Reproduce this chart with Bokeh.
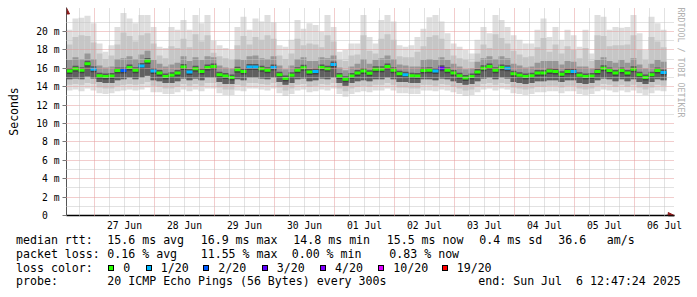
from bokeh.plotting import figure
from bokeh.models import (Range1d, FixedTicker, Grid, Title, Arrow, NormalHead,
                          ColumnDataSource, Div)
from bokeh.layouts import column
from bokeh.embed import file_html
from bokeh.resources import INLINE

# ---------------- data (hours since 27 Jun 00:00) ----------------
T_END = 228.79          # Sun Jul 6 12:47:24
T_SPAN = 240.0          # 10 days
BIN_H = 2.4             # hours per smoke column

median_ms = [
    15.7, 15.95, 15.8, 16.5, 15.9, 15.2, 15.1, 15.15, 15.75, 15.75,
    16.1, 15.8, 16.25, 16.8, 15.7, 15.5, 15.1, 15.25, 15.5, 16.15,
    15.6, 15.95, 15.65, 16.1, 16.2, 15.3, 15.15, 15.0, 15.85, 15.65,
    16.15, 16.15, 15.95, 15.8, 16.1, 15.3, 14.9, 15.25, 15.8, 16.05,
    15.6, 15.65, 16.1, 15.95, 16.4, 15.15, 14.8, 15.15, 15.5, 15.7,
    15.45, 15.9, 15.9, 16.2, 15.8, 15.4, 15.3, 15.2, 15.15, 15.75,
    15.8, 15.7, 16.0, 15.8, 15.5, 15.2, 14.95, 15.1, 15.6, 16.0,
    16.2, 15.8, 16.1, 16.0, 15.4, 15.25, 15.1, 15.2, 15.5, 15.5,
    15.7, 15.65, 15.35, 15.65, 15.65, 15.25, 15.1, 15.15, 15.65, 16.0,
    15.75, 15.5, 15.75, 15.5, 15.9, 15.3, 15.0, 15.3, 15.75, 15.55]

loss_20 = [0] * 100
for i in [4, 12, 14, 20, 30, 31, 34, 41, 44, 56, 61, 73, 84, 99]:
    loss_20[i] = 1
loss_20[9] = 2
loss_20[62] = 3

smoke_max = [
    20.2, 21.4, 21.5, 21.7, 20.9, 18.7, 17.8, 18.5, 20.5, 22.0,
    21.4, 20.9, 21.8, 21.8, 20.5, 18.35, 18.2, 20.5, 20.2, 21.25,
    20.2, 21.8, 20.9, 21.8, 19.0, 18.5, 18.2, 18.0, 20.5, 21.6,
    20.2, 21.4, 21.1, 21.8, 21.0, 18.5, 18.35, 19.1, 21.25, 20.3,
    20.9, 20.7, 20.0, 21.8, 20.5, 17.8, 18.0, 18.7, 18.7, 21.8,
    19.4, 18.7, 21.25, 21.8, 21.1, 18.5, 18.35, 18.5, 19.4, 20.3,
    21.55, 21.8, 21.1, 19.8, 18.7, 18.35, 18.0, 17.6, 19.1, 20.5,
    19.8, 21.8, 21.25, 20.5, 19.6, 19.1, 18.7, 18.7, 20.2, 21.4,
    19.4, 20.5, 19.1, 20.2, 19.6, 18.35, 20.2, 17.6, 21.8, 21.6,
    20.2, 20.5, 20.4, 20.5, 21.8, 19.8, 18.0, 21.6, 20.9, 20.2]

smoke_p90 = [
    18.6, 19.4, 19.6, 19.5, 18.8, 17.6, 17.0, 17.4, 18.6, 19.9,
    19.5, 18.9, 19.6, 19.8, 18.7, 17.4, 17.1, 18.4, 18.2, 19.2,
    18.3, 19.7, 18.9, 19.6, 17.7, 17.3, 17.1, 16.9, 18.5, 19.5,
    18.6, 19.4, 19.1, 19.6, 19.2, 17.4, 17.0, 17.6, 19.2, 18.5,
    18.7, 18.6, 18.3, 19.6, 18.9, 16.9, 16.8, 17.4, 17.5, 19.6,
    17.9, 17.6, 19.2, 19.7, 19.1, 17.3, 17.2, 17.2, 17.8, 18.4,
    19.4, 19.6, 19.2, 18.1, 17.4, 17.1, 16.9, 16.7, 17.6, 18.6,
    18.2, 19.7, 19.3, 18.7, 17.9, 17.5, 17.2, 17.3, 18.3, 19.3,
    17.8, 18.6, 17.6, 18.4, 18.0, 17.1, 18.2, 16.8, 19.6, 19.5,
    18.4, 18.5, 18.5, 18.6, 19.6, 18.0, 16.9, 19.4, 18.9, 18.3]

smoke_p75 = [
    16.9, 17.2, 17.0, 17.6, 17.0, 16.3, 16.1, 16.2, 17.0, 17.1,
    17.3, 17.0, 17.5, 17.9, 16.9, 16.5, 16.2, 16.4, 16.6, 17.3,
    16.8, 17.2, 16.9, 17.3, 17.2, 16.3, 16.1, 16.0, 17.0, 16.9,
    17.3, 17.4, 17.1, 17.0, 17.3, 16.3, 15.9, 16.3, 17.0, 17.2,
    16.8, 16.8, 17.2, 17.1, 17.4, 16.1, 15.8, 16.2, 16.5, 17.0,
    16.5, 16.9, 17.1, 17.4, 17.0, 16.4, 16.3, 16.2, 16.2, 16.9,
    17.0, 16.9, 17.2, 16.9, 16.5, 16.2, 15.9, 16.0, 16.7, 17.1,
    17.3, 17.0, 17.3, 17.1, 16.5, 16.3, 16.1, 16.2, 16.6, 16.8,
    16.8, 16.8, 16.4, 16.8, 16.7, 16.2, 16.2, 16.0, 16.9, 17.2,
    16.8, 16.6, 16.9, 16.6, 17.1, 16.4, 16.0, 16.5, 16.9, 16.7]

smoke_p25 = [
    14.8, 14.9, 14.8, 15.1, 14.9, 14.5, 14.4, 14.4, 14.7, 14.8,
    15.0, 14.8, 15.0, 15.2, 14.7, 14.6, 14.4, 14.4, 14.6, 14.9,
    14.7, 14.9, 14.7, 15.0, 15.0, 14.5, 14.3, 14.3, 14.8, 14.7,
    15.0, 15.0, 14.9, 14.8, 15.0, 14.5, 14.2, 14.4, 14.8, 14.9,
    14.6, 14.7, 14.9, 14.8, 15.0, 14.4, 14.1, 14.4, 14.6, 14.7,
    14.6, 14.8, 14.8, 15.0, 14.8, 14.5, 14.5, 14.4, 14.4, 14.8,
    14.8, 14.7, 14.9, 14.8, 14.6, 14.4, 14.2, 14.3, 14.6, 14.9,
    15.0, 14.8, 15.0, 14.9, 14.5, 14.4, 14.3, 14.4, 14.6, 14.6,
    14.7, 14.7, 14.5, 14.7, 14.7, 14.4, 14.3, 14.4, 14.7, 14.9,
    14.8, 14.6, 14.8, 14.6, 14.8, 14.5, 14.3, 14.5, 14.8, 14.7]

smoke_p10 = [
    14.2, 14.3, 14.2, 14.4, 14.3, 13.9, 13.8, 13.8, 14.1, 14.2,
    14.3, 14.2, 14.3, 14.5, 14.1, 14.0, 13.8, 13.8, 14.0, 14.3,
    14.1, 14.3, 14.1, 14.4, 14.4, 13.9, 13.7, 13.7, 14.2, 14.1,
    14.4, 14.4, 14.3, 14.2, 14.4, 13.9, 13.6, 13.8, 14.2, 14.3,
    14.0, 14.1, 14.3, 14.2, 14.4, 13.8, 13.5, 13.8, 14.0, 14.1,
    14.0, 14.2, 14.2, 14.4, 14.2, 13.9, 13.9, 13.8, 13.8, 14.2,
    14.2, 14.1, 14.3, 14.2, 14.0, 13.8, 13.6, 13.7, 14.0, 14.3,
    14.4, 14.2, 14.4, 14.3, 13.9, 13.8, 13.7, 13.8, 14.0, 14.0,
    14.1, 14.1, 13.9, 14.1, 14.1, 13.8, 13.7, 13.8, 14.1, 14.3,
    14.2, 14.0, 14.2, 14.0, 14.2, 13.9, 13.7, 13.9, 14.2, 14.1]

smoke_min = [
    13.6, 13.7, 13.5, 13.8, 13.6, 13.3, 13.2, 13.3, 13.5, 13.6,
    13.7, 13.6, 13.7, 13.9, 13.4, 13.4, 13.2, 13.2, 13.4, 13.7,
    13.5, 13.7, 13.5, 13.8, 13.8, 13.3, 13.1, 13.1, 13.6, 13.5,
    13.8, 13.8, 13.7, 13.6, 13.8, 13.3, 13.0, 13.2, 13.6, 13.7,
    13.4, 13.5, 13.7, 13.6, 13.8, 13.2, 12.9, 13.2, 13.4, 13.5,
    13.4, 13.6, 13.6, 13.8, 13.6, 13.3, 13.3, 13.2, 13.2, 13.6,
    13.6, 13.5, 13.7, 13.6, 13.4, 13.2, 13.0, 13.1, 13.4, 13.7,
    13.8, 13.6, 13.8, 13.7, 13.3, 13.2, 13.1, 13.2, 13.4, 13.4,
    13.5, 13.5, 13.3, 13.5, 13.5, 13.2, 13.1, 13.2, 13.5, 13.7,
    13.6, 13.4, 13.6, 13.4, 13.6, 13.3, 13.1, 13.3, 13.6, 13.5]

day_labels = ["27 Jun", "28 Jun", "29 Jun", "30 Jun", "01 Jul",
              "02 Jul", "03 Jul", "04 Jul", "05 Jul", "06 Jul"]
y_tick_values = [0, 2, 4, 6, 8, 10, 12, 14, 16, 18, 20]
y_tick_labels = ["0\u00a0\u00a0", "2 m", "4 m", "6 m", "8 m", "10 m",
                 "12 m", "14 m", "16 m", "18 m", "20 m"]
y_minor_values = [1, 3, 5, 7, 9, 11, 13, 15, 17, 19, 21]

loss_colors = ["#26ff00", "#00b8ff", "#0059ff", "#5e00ff", "#7e00ff", "#dd00ff", "#ff0000"]
loss_labels = ["0", "1/20", "2/20", "3/20", "4/20", "10/20", "19/20"]

rtt_stats = {"avg": 15.6, "max": 16.9, "min": 14.8, "now": 15.5, "sd": 0.4, "ams": 36.6}
loss_stats = {"avg": 0.16, "max": 11.55, "min": 0.00, "now": 0.83}
probe_text = "20 ICMP Echo Pings (56 Bytes) every 300s"
end_text = "end: Sun Jul  6 12:47:24 2025"

# ---------------- geometry ----------------
W, H_PLOT, H_LEG = 697, 234, 63
FR_L, FR_R, FR_T, FR_B = 66, 674, 7, 215
PX_PER_H = 2.5
PX_PER_MS = 9.2

T_START = T_END - T_SPAN
x_end = T_START + (FR_R - FR_L) / PX_PER_H
y_end = (FR_B - FR_T) / PX_PER_MS

n = len(median_ms)
left = [T_START + i * BIN_H for i in range(n)]
right = [T_START + (i + 1) * BIN_H for i in range(n)]

src = ColumnDataSource(dict(left=left, right=right, med=median_ms,
                            mx=smoke_max, p90=smoke_p90, p75=smoke_p75,
                            p25=smoke_p25, p10=smoke_p10, mn=smoke_min,
                            color=[loss_colors[k] for k in loss_20]))

FONT = "DejaVu Sans Mono"
p = figure(width=W, height=H_PLOT, output_backend="svg", toolbar_location=None,
           x_range=Range1d(T_START, x_end), y_range=Range1d(0, y_end),
           min_border_left=FR_L, min_border_right=W - FR_R,
           min_border_top=FR_T, min_border_bottom=H_PLOT - FR_B)
p.outline_line_color = None
p.background_fill_color = "white"
p.border_fill_color = "white"

p.quad(left="left", right="right", bottom="mn", top="mx", source=src,
       fill_color="#dedede", line_color=None)
p.quad(left="left", right="right", bottom="p10", top="p90", source=src,
       fill_color="#c6c6c6", line_color=None)
p.quad(left="left", right="right", bottom="p25", top="p75", source=src,
       fill_color="#979797", line_color=None)
p.quad(left="left", right="right", bottom="p25", top="med", source=src,
       fill_color="#606060", line_color=None)
p.segment(x0="left", x1="right", y0="med", y1="med", source=src,
          line_color="#2e2e2e", line_width=6, line_alpha=0.6)
p.segment(x0="left", x1="right", y0="med", y1="med", source=src,
          line_color="color", line_width=3)

# axes
midnights = [24 * k for k in range(10)]
noons = [12 + 24 * k for k in range(10)]
sixh = [6 * k for k in range(-1, 39) if (6 * k) % 24 != 0 and T_START < 6 * k < T_END]

p.xaxis.ticker = FixedTicker(ticks=noons)
p.xaxis.major_label_overrides = {t: lab for t, lab in zip(noons, day_labels)}
p.xaxis.major_tick_line_color = None
p.xaxis.minor_tick_line_color = None
p.xaxis.axis_line_color = "#000000"
p.xaxis.axis_line_width = 1.3
p.xaxis.major_label_standoff = -2
p.xaxis.major_label_text_font = FONT
p.xaxis.major_label_text_font_size = "9.7px"
p.xaxis.major_label_text_color = "#000000"

p.yaxis.ticker = FixedTicker(ticks=y_tick_values, minor_ticks=y_minor_values)
p.yaxis.major_label_overrides = {v: lab for v, lab in zip(y_tick_values, y_tick_labels)}
p.yaxis.major_tick_out = 4
p.yaxis.major_tick_in = 0
p.yaxis.major_tick_line_color = "#777777"
p.yaxis.minor_tick_line_color = None
p.yaxis.axis_line_color = "#555555"
p.yaxis.major_label_standoff = 3
p.yaxis.major_label_text_font = FONT
p.yaxis.major_label_text_font_size = "9.7px"
p.yaxis.major_label_text_color = "#000000"
p.yaxis.axis_label = "Seconds"
p.yaxis.axis_label_text_font = FONT
p.yaxis.axis_label_text_font_size = "11.5px"
p.yaxis.axis_label_text_font_style = "normal"
p.yaxis.axis_label_text_color = "#000000"
p.yaxis.axis_label_standoff = 12

# grids (drawn above the smoke like rrdtool)
MAJ = "#e59a9a"
MIN = "#c4c4c4"
p.xgrid.ticker = FixedTicker(ticks=midnights)
p.xgrid.grid_line_color = MAJ
p.xgrid.grid_line_dash = "1 1"
p.xgrid.level = "overlay"
p.add_layout(Grid(dimension=0, ticker=FixedTicker(ticks=sixh),
                  grid_line_color=MIN, grid_line_dash="1 1", level="overlay"))
p.ygrid.grid_line_color = MAJ
p.ygrid.grid_line_dash = "1 1"
p.ygrid.minor_grid_line_color = MIN
p.ygrid.minor_grid_line_dash = "1 1"
p.ygrid.level = "overlay"

# axis arrows
ARROW = "#8b1a1a"
p.add_layout(Arrow(end=NormalHead(size=6, fill_color=ARROW, line_color=ARROW),
                   x_start=T_START, y_start=21.9, x_end=T_START, y_end=y_end - 0.05,
                   line_color="#555555", line_width=1))
p.add_layout(Arrow(end=NormalHead(size=6, fill_color=ARROW, line_color=ARROW),
                   x_start=T_END, y_start=0, x_end=x_end - 0.1, y_end=0,
                   line_color="#000000", line_width=1.3))

# watermark on the right side
p.add_layout(Title(text="RRDTOOL / TOBI OETIKER", align="left", text_font=FONT,
                   text_font_size="8.3px", text_font_style="normal",
                   text_color="#b0b0b0", standoff=2, offset=0), "right")

# ---------------- legend block ----------------
LINE_BASE = [245.0, 258.7, 272.4, 286.0]
ASC = 9.8   # baseline offset of an 11.6px DejaVu Sans Mono line (line-height 11.6px)

items = [
    ("median rtt:", 16, 0),
    ("%.1f ms avg" % rtt_stats["avg"], 107.3, 0),
    ("%.1f ms max" % rtt_stats["max"], 200.7, 0),
    ("%.1f ms min" % rtt_stats["min"], 293.3, 0),
    ("%.1f ms now" % rtt_stats["now"], 386.7, 0),
    ("%.1f ms sd" % rtt_stats["sd"], 479.3, 0),
    ("%.1f" % rtt_stats["ams"], 558.3, 0),
    ("am/s", 606.7, 0),
    ("packet loss:", 16, 1),
    ("%.2f %% avg" % loss_stats["avg"], 107.3, 1),
    ("%.2f %% max" % loss_stats["max"], 200.7, 1),
    ("%.2f %% min" % loss_stats["min"], 291.7, 1),
    ("%.2f %% now" % loss_stats["now"], 389.3, 1),
    ("loss color:", 16, 2),
    ("probe:", 16, 3),
    (probe_text, 107.3, 3),
    (end_text, 478.3, 3),
]
box_x = [108.3, 145.7, 203.3, 261.7, 320.0, 378.3, 441.7]
for bx, lab in zip(box_x, loss_labels):
    items.append((lab, bx + 15.0, 2))

parts = []
for txt, x, row in items:
    top = LINE_BASE[row] - ASC - H_PLOT
    parts.append('<span style="position:absolute;left:%.1fpx;top:%.1fpx;">%s</span>'
                 % (x, top, txt.replace("&", "&amp;").replace("<", "&lt;")))
box_top = 265.0 - H_PLOT
for bx, col in zip(box_x, loss_colors):
    parts.append('<span style="position:absolute;left:%.1fpx;top:%.1fpx;width:6px;height:6px;'
                 'background:%s;border:1px solid #000;"></span>' % (bx, box_top, col))

html = ('<div style="position:relative;width:%dpx;height:%dpx;overflow:visible;'
        'font-family:\'DejaVu Sans Mono\';font-size:11.6px;line-height:11.6px;'
        'color:#000;white-space:pre;">%s</div>' % (W, H_LEG, "".join(parts)))
legend = Div(text=html, width=W, height=H_LEG, margin=(0, 0, 0, 0))

layout = column(p, legend, spacing=0)
open("out.html", "w").write(file_html(layout, INLINE))
